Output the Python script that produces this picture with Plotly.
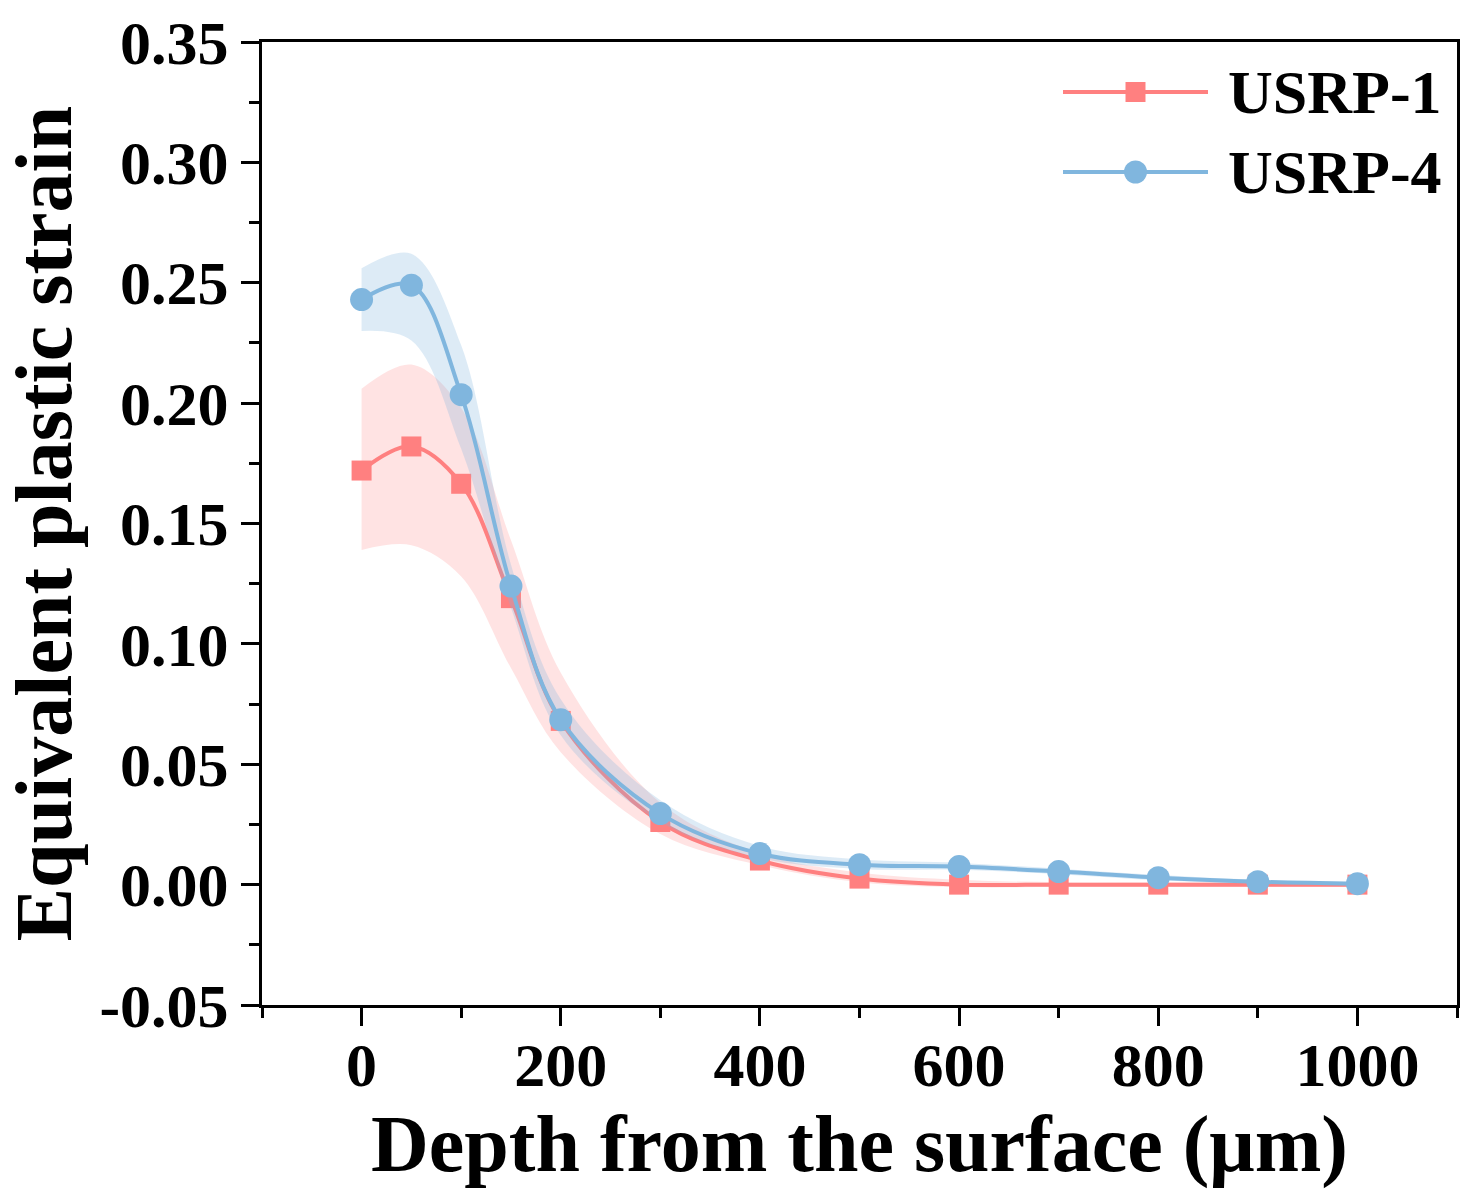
import plotly.graph_objects as go

# Depth below the treated surface (µm)
depth = [0, 50, 100, 150, 200, 300, 400, 500, 600, 700, 800, 900, 1000]

# Equivalent plastic strain, USRP-1
usrp1 = [0.172, 0.182, 0.1665, 0.119, 0.068, 0.026, 0.010, 0.0025, 0.0, 0.0, 0.0, 0.0, 0.0]
usrp1_low = [0.139, 0.141, 0.128, 0.090, 0.055, 0.021, 0.008, 0.001, -0.001, -0.001, -0.001, -0.001, -0.001]
usrp1_high = [0.206, 0.216, 0.198, 0.143, 0.088, 0.034, 0.013, 0.005, 0.002, 0.001, 0.001, 0.001, 0.001]

# Equivalent plastic strain, USRP-4
usrp4 = [0.243, 0.249, 0.2035, 0.124, 0.0685, 0.0295, 0.0129, 0.0083, 0.0075, 0.0054, 0.0029, 0.0012, 0.0004]
usrp4_low = [0.230, 0.226, 0.181, 0.115, 0.062, 0.026, 0.011, 0.0065, 0.0062, 0.0043, 0.0018, 0.0004, -0.0005]
usrp4_high = [0.256, 0.262, 0.224, 0.133, 0.077, 0.035, 0.016, 0.0105, 0.0090, 0.0066, 0.0040, 0.0020, 0.0012]

y_ticks = [-0.05, 0.0, 0.05, 0.10, 0.15, 0.20, 0.25, 0.30, 0.35]
y_labels = ["-0.05", "0.00", "0.05", "0.10", "0.15", "0.20", "0.25", "0.30", "0.35"]
x_ticks = [0, 200, 400, 600, 800, 1000]
x_labels = ["0", "200", "400", "600", "800", "1000"]

series_names = ["USRP-1", "USRP-4"]

RED = "rgb(255,128,128)"
BLUE = "rgb(128,182,222)"
RED_BAND = "rgba(255,128,128,0.22)"
BLUE_BAND = "rgba(128,182,222,0.27)"
FONT = "Times New Roman, Liberation Serif, serif"

fig = go.Figure()


def add_series(y, lo, hi, color, band, symbol, size, name):
    fig.add_trace(go.Scatter(x=depth, y=lo, mode="lines", line=dict(width=0, shape="spline", color=band),
                             showlegend=False, hoverinfo="skip"))
    fig.add_trace(go.Scatter(x=depth, y=hi, mode="lines", line=dict(width=0, shape="spline", color=band),
                             fill="tonexty", fillcolor=band, showlegend=False, hoverinfo="skip"))
    fig.add_trace(go.Scatter(x=depth, y=y, mode="lines+markers", name=name,
                             line=dict(color=color, width=4, shape="spline"),
                             marker=dict(symbol=symbol, size=size, color=color, line=dict(width=0)),
                             showlegend=False))


add_series(usrp1, usrp1_low, usrp1_high, RED, RED_BAND, "square", 20, series_names[0])
add_series(usrp4, usrp4_low, usrp4_high, BLUE, BLUE_BAND, "circle", 23, series_names[1])

# Hand-built legend: long line sample with a centred marker, then the label
W, H = 1470, 1189
L, R, T, B = 262, 13, 42, 184
pw, ph = W - L - R, H - T - B


def px(xp):
    return (xp - L) / pw


def py(yp):
    return (H - B - yp) / ph


shapes = []
annotations = []
for name, color, kind, yrow in [(series_names[0], RED, "rect", 92), (series_names[1], BLUE, "circle", 172)]:
    shapes.append(dict(type="line", xref="paper", yref="paper", x0=px(1063), x1=px(1208), y0=py(yrow), y1=py(yrow),
                       line=dict(color=color, width=4)))
    r = 10 if kind == "rect" else 11.5
    shapes.append(dict(type=kind, xref="paper", yref="paper", x0=px(1135.5 - r), x1=px(1135.5 + r),
                       y0=py(yrow + r), y1=py(yrow - r), fillcolor=color, line=dict(width=0)))
    annotations.append(dict(xref="paper", yref="paper", x=px(1226), y=py(yrow), text=name, showarrow=False,
                            xanchor="left", yanchor="middle",
                            font=dict(family=FONT, size=62, color="black", weight="bold")))

axis_common = dict(
    showline=True, linecolor="black", linewidth=3, mirror=True,
    ticks="outside", ticklen=18, tickwidth=3, tickcolor="black",
    showgrid=False, zeroline=False, automargin=False,
    tickfont=dict(family=FONT, size=62, color="black", weight="bold"),
)

fig.update_layout(
    width=W, height=H,
    margin=dict(l=L, r=R, t=T, b=B),
    paper_bgcolor="white", plot_bgcolor="white",
    showlegend=False,
    shapes=shapes, annotations=annotations,
    xaxis=dict(
        range=[-100, 1100], tickmode="array", tickvals=x_ticks, ticktext=x_labels,
        ticklabelstandoff=-14,
        minor=dict(tickmode="linear", tick0=-100, dtick=200, ticks="outside", ticklen=10, tickwidth=3,
                   tickcolor="black"),
        title=dict(text="Depth from the surface (μm)", standoff=17,
                   font=dict(family=FONT, size=80, color="black", weight="bold")),
        **axis_common,
    ),
    yaxis=dict(
        range=[-0.05, 0.35], tickmode="array", tickvals=y_ticks, ticktext=y_labels,
        minor=dict(tickmode="linear", tick0=-0.025, dtick=0.05, ticks="outside", ticklen=10, tickwidth=3,
                   tickcolor="black"),
        title=dict(text="Equivalent plastic strain", standoff=14,
                   font=dict(family=FONT, size=80, color="black", weight="bold")),
        **axis_common,
    ),
)

fig.write_html("out.html")
